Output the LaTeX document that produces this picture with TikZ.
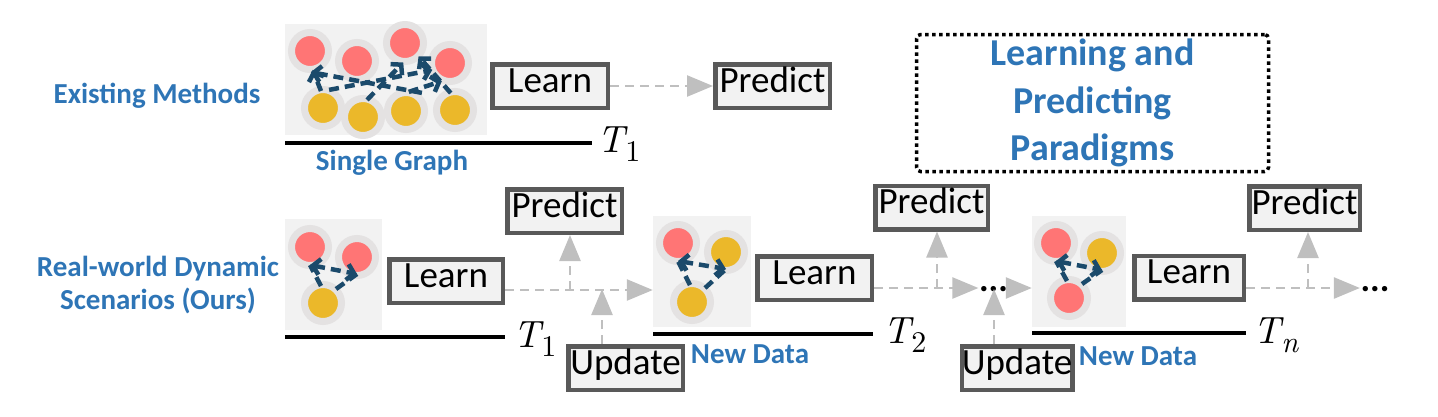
\documentclass[tikz,border=0pt]{standalone}
\usepackage[no-math]{fontspec}
\setmainfont{Carlito}
\newfontfamily\lmfont{lmroman10-regular}[Extension=.otf, ItalicFont=lmroman10-italic]
\usetikzlibrary{arrows.meta}
\definecolor{boxfill}{HTML}{F2F2F2}
\definecolor{boxline}{HTML}{595959}
\definecolor{nodered}{HTML}{FF7575}
\definecolor{nodeyel}{HTML}{EBB82A}
\definecolor{halo}{HTML}{E4E2E2}
\definecolor{edgeblue}{HTML}{1B4A6B}
\definecolor{lblue}{HTML}{2E75B6}
\definecolor{arrgray}{HTML}{BFBFBF}
\newcommand\Tlab[1]{{\lmfont\itshape T}\kern1pt\raisebox{-9pt}{\fontsize{30}{30}\selectfont\lmfont #1}}
\begin{document}
\begin{tikzpicture}[x=1pt,y=-1pt,
  bluelbl/.style={text=lblue, font=\bfseries\fontsize{29}{33}\selectfont, align=center, inner sep=0},
  opbox/.style={draw=boxline, line width=4.5pt, fill=boxfill, minimum height=43.5pt, minimum width=#1, inner sep=0, text height=20pt, text depth=8pt, font=\fontsize{37}{37}\selectfont},
  opbox/.default=114pt,
  panel/.style={fill=boxfill, inner sep=0, minimum height=111pt},
  rnode/.style={circle, minimum size=37pt, inner sep=0, fill=nodered, draw=halo, line width=7pt},
  ynode/.style={rnode, fill=nodeyel},
  gedge/.style={draw=edgeblue, line width=4.5pt, dash pattern=on 10pt off 6pt, >={Straight Barb[length=7pt,width=16pt]}},
  flow/.style={draw=arrgray, line width=2.5pt, dash pattern=on 9pt off 6pt, -{Triangle[length=26pt,width=21pt]}},
  timeline/.style={line width=4pt, draw=black},
  tlabel/.style={anchor=base west, inner sep=0, font=\fontsize{38}{38}\selectfont},
  dotsnode/.style={font=\bfseries\fontsize{36}{36}\selectfont, inner sep=0.5pt, anchor=base},
]
\useasboundingbox (0,0) rectangle (1438,416);

% ---------- labels on the left ----------
\node[bluelbl, anchor=base] (lexist) at (157,103) {Existing Methods};
\node[bluelbl] (lreal) at (158,285) {Real-world Dynamic\\Scenarios (Ours)};

% ---------- top row ----------
\node[panel, minimum width=202pt] (gT) at (386,79.5) {};
\node[rnode] (tr1) at (310,51) {};
\node[rnode] (tr2) at (357,61) {};
\node[rnode] (tr3) at (405,43) {};
\node[rnode] (tr4) at (450,63) {};
\node[ynode] (ty1) at (323,108) {};
\node[ynode] (ty2) at (363,117) {};
\node[ynode] (ty3) at (406,111) {};
\node[ynode] (ty4) at (455,110) {};
\begin{scope}[shorten <=-5pt, shorten >=-3pt]
\draw[gedge,->] (ty1.100) -- (tr1.-80);
\draw[gedge,->] (ty3.60) -- (tr1.-80);
\draw[gedge,->] (ty1.60) -- (tr4.200);
\draw[gedge,->] (ty2.70) -- (tr3.-100);
\draw[gedge,->] (ty4.110) -- (tr3.-45);
\draw[gedge,->] (ty3.70) -- (tr4.-120);
\end{scope}

\draw[timeline] (285,143) -- (592,143);
\node[tlabel] (T0) at (597,152) {\Tlab{1}};
\node[bluelbl, anchor=base] (lsingle) at (392,170) {Single Graph};

\node[opbox=115.5pt] (learnT) at (550,86) {Learn};
\node[opbox=114.5pt] (predT) at (772.5,86) {Predict};
\draw[flow] (learnT.east) -- (predT.west);

\node[draw, line width=3.5pt, dash pattern=on 3.5pt off 3.5pt, rounded corners=4pt,
      minimum width=352pt, minimum height=137pt, text=lblue, align=center,
      font=\bfseries\fontsize{38}{47.5}\selectfont] (para) at (1092.5,103)
      {Learning and\\Predicting\\Paradigms};

% ---------- bottom row: step 1 ----------
\node[panel, minimum width=97pt] (g1) at (333.5,274.5) {};
\node[rnode] (a1) at (310,247) {};
\node[rnode] (b1) at (357,257) {};
\node[ynode] (c1) at (323,303) {};
\draw[gedge] ([shift={(-2,-17)}]c1.center) -- ([shift={(0,18)}]a1.center);
\draw[gedge] ([shift={(13,-14)}]c1.center) -- ([shift={(0,17)}]b1.center);
\draw[gedge,<->] ([shift={(0,18)}]a1.center) -- ([shift={(0,17)}]b1.center);
\draw[timeline] (285,337) -- (505,337);
\node[tlabel] (T1) at (513,347) {\Tlab{1}};
\node[opbox=113.5pt] (learn1) at (446,281) {Learn};
\node[opbox=114.5pt] (pred2) at (564.5,211) {Predict};
\node[opbox=114.5pt] (upd1) at (625.5,368) {Update};

% ---------- bottom row: step 2 ----------
\node[panel, minimum width=98pt] (g2) at (702,271.5) {};
\node[rnode] (a2) at (678,243) {};
\node[ynode] (b2) at (726,252) {};
\node[ynode] (c2) at (692,302) {};
\draw[gedge] ([shift={(-2,-17)}]c2.center) -- ([shift={(0,18)}]a2.center);
\draw[gedge] ([shift={(13,-14)}]c2.center) -- ([shift={(0,17)}]b2.center);
\draw[gedge,<->] ([shift={(0,18)}]a2.center) -- ([shift={(0,17)}]b2.center);
\draw[timeline] (653,334) -- (873,334);
\node[tlabel] (T2) at (883,343) {\Tlab{2}};
\node[bluelbl, anchor=base] (lnew1) at (750,363) {New Data};
\node[opbox=114.5pt] (learn2) at (814.5,278) {Learn};
\node[opbox=112.5pt] (pred3) at (931.5,207.5) {Predict};
\node[opbox=110.5pt] (upd2) at (1017,368) {Update};
\node[dotsnode] (dots1) at (993.5,291) {...};

% ---------- bottom row: step n ----------
\node[panel, minimum width=94pt] (g3) at (1079,271.5) {};
\node[rnode] (a3) at (1056,243) {};
\node[ynode] (b3) at (1102,253) {};
\node[rnode] (c3) at (1069,298) {};
\draw[gedge] ([shift={(-2,-17)}]c3.center) -- ([shift={(0,18)}]a3.center);
\draw[gedge] ([shift={(13,-14)}]c3.center) -- ([shift={(0,17)}]b3.center);
\draw[gedge,<->] ([shift={(0,18)}]a3.center) -- ([shift={(0,17)}]b3.center);
\draw[timeline] (1032,333) -- (1246,333);
\node[tlabel] (T3) at (1253,343) {\Tlab{\itshape n}};
\node[bluelbl, anchor=base] (lnew2) at (1138,365) {New Data};
\node[opbox=109.5pt] (learn3) at (1189,277.5) {Learn};
\node[opbox=110.5pt] (pred4) at (1304.5,208) {Predict};
\node[dotsnode] (dots2) at (1375,291) {...};

% ---------- flow arrows ----------
\coordinate (row1) at (0,290);
\coordinate (row2) at (0,288);
\draw[flow] (learn1.east |- row1) -- (g2.west |- row1);
\coordinate (br1) at (570,290);
\draw[flow] (br1) -- (br1 |- pred2.south);
\coordinate (up1) at (602,289);
\draw[flow] (upd1.north -| up1) -- (up1);

\draw[flow] (learn2.east |- row2) -- (dots1.west |- row2);
\draw[flow] (dots1.east |- row2) -- (g3.west |- row2);
\coordinate (br2) at (937,288);
\draw[flow] (br2) -- (br2 |- pred3.south);
\coordinate (up2) at (994,289);
\draw[flow] (upd2.north -| up2) -- (up2);

\draw[flow] (learn3.east |- row2) -- (dots2.west |- row2);
\coordinate (br3) at (1308,288);
\draw[flow] (br3) -- (br3 |- pred4.south);
\end{tikzpicture}
\end{document}
